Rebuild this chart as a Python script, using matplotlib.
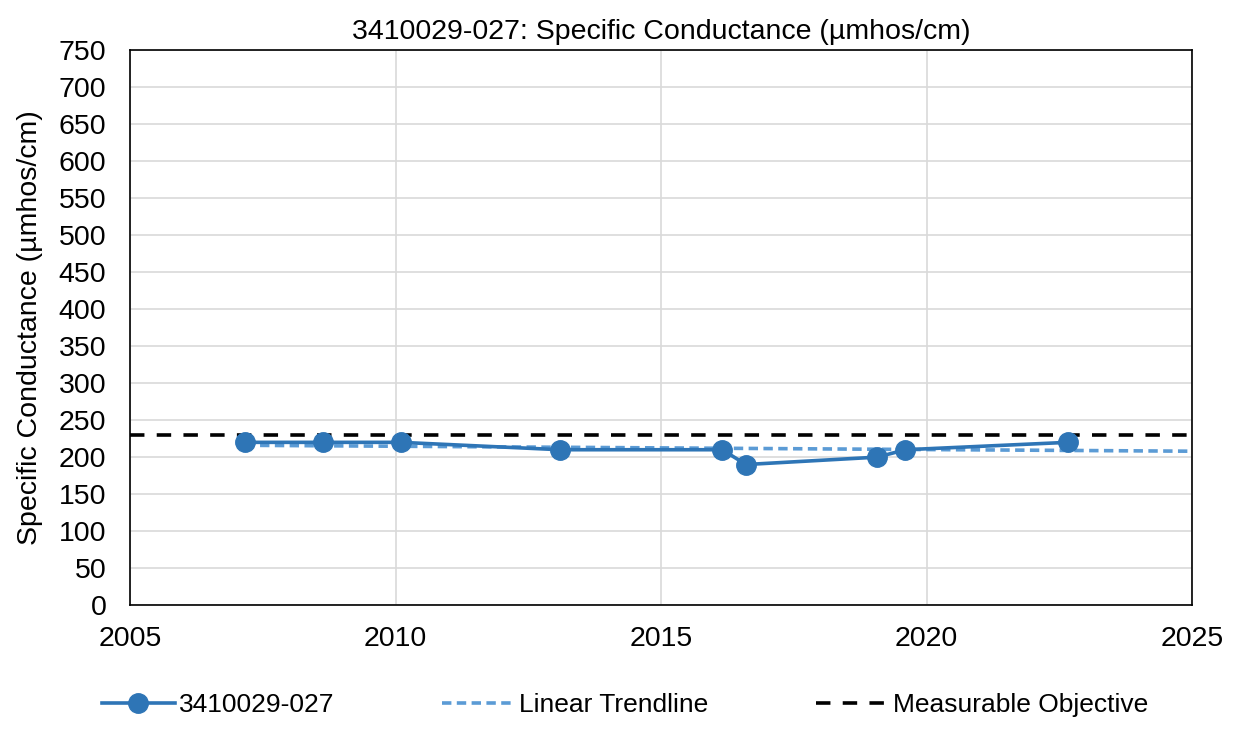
import matplotlib
matplotlib.use("Agg")
import matplotlib.pyplot as plt

plt.rcParams["font.family"] = ["Liberation Sans", "DejaVu Sans"]

# ── Data ──────────────────────────────────────────────────────────────
years = [2007.17, 2008.63, 2010.10, 2013.10, 2016.15, 2016.60, 2019.07, 2019.60, 2022.66]
conductance = [220, 220, 220, 210, 210, 190, 200, 210, 220]
trend_x = [2007.17, 2025.0]
trend_y = [216, 208]
objective = 230

fig = plt.figure(figsize=(12.38, 7.29), dpi=100)
ax = fig.add_axes([0.105, 0.170, 0.858, 0.761])

ax.plot(years, conductance, color="#2e75b6", lw=2.6, marker="o", ms=14,
        label="3410029-027", zorder=3)
ax.plot(trend_x, trend_y, color="#5b9bd5", lw=2.6, ls=(0, (2.6, 1.5)),
        label="Linear Trendline", zorder=2)
ax.axhline(objective, color="black", lw=2.6, ls=(0, (4.0, 3.4)),
           label="Measurable Objective", zorder=2)

ax.set_xlim(2005, 2025)
ax.set_ylim(0, 750)
ax.set_xticks(range(2005, 2026, 5))
ax.set_yticks(range(0, 751, 50))
ax.tick_params(labelsize=20.5, length=0)
ax.tick_params(axis="y", pad=17)
ax.tick_params(axis="x", pad=15)
ax.grid(color="#d9d9d9", lw=1.2)
ax.set_axisbelow(True)
for s in ax.spines.values():
    s.set_color("black")
    s.set_linewidth(1.2)

ax.set_title("3410029-027: Specific Conductance (\u00b5mhos/cm)", fontsize=20.5, pad=8)
ax.set_ylabel("Specific Conductance (\u00b5mhos/cm)", fontsize=20.5, labelpad=11)

fig.legend(loc="center", bbox_to_anchor=(0.505, 0.033), ncol=3, frameon=False,
           fontsize=19, handlelength=2.75, handletextpad=0.15, columnspacing=4.1)

fig.savefig("out.png", dpi=100)
